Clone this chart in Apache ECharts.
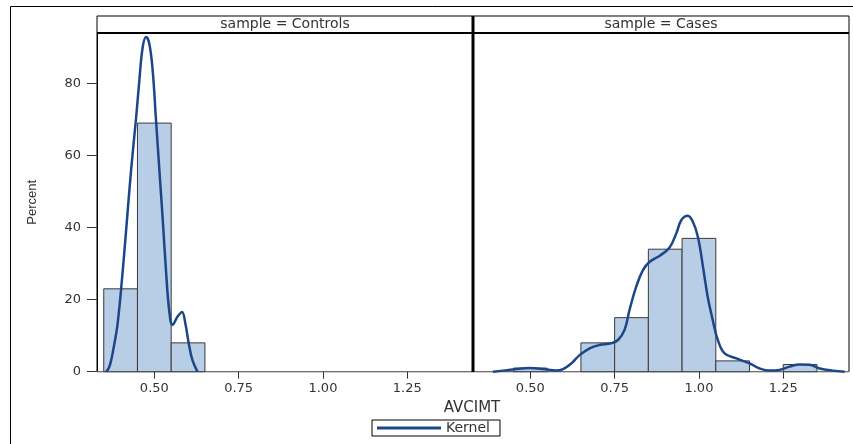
<!DOCTYPE html>
<html>
<head>
<meta charset="utf-8">
<script src="https://cdn.jsdelivr.net/npm/echarts@6/dist/echarts.min.js"></script>
<style>html,body{margin:0;padding:0;background:#fff}#chart{width:853px;height:444px}</style>
</head>
<body>
<div id="chart"></div>
<script>
// ---- data ----
const panelTitles = ['sample = Controls', 'sample = Cases'];
const xTicks = [0.50, 0.75, 1.00, 1.25];
const yTicks = [0, 20, 40, 60, 80];
const binWidth = 0.1;
const controlsBinMid = [0.40, 0.50, 0.60];
const controlsPct = [23, 69, 8];
const casesBinMid = [0.50, 0.70, 0.80, 0.90, 1.00, 1.10, 1.30];
const casesPct = [1, 8, 15, 34, 37, 3, 2];
const controlsKernelX = [0.357, 0.365, 0.372, 0.380, 0.390, 0.4016, 0.4164, 0.431, 0.446, 0.4557, 0.4657, 0.4755, 0.485, 0.495, 0.505, 0.515, 0.525, 0.5345, 0.544, 0.554, 0.569, 0.582, 0.592, 0.602, 0.613, 0.628];
const controlsKernelY = [0, 1.0, 3.2, 7.0, 12.5, 23.0, 39.3, 55.9, 70.5, 81.0, 90.2, 92.9, 91.1, 83.7, 69.8, 55.9, 42.1, 28.2, 17.1, 13.0, 15.3, 16.6, 13.4, 7.9, 3.2, 0];
const casesKernelX = [0.389, 0.419, 0.4585, 0.498, 0.537, 0.577, 0.597, 0.6215, 0.646, 0.676, 0.705, 0.740, 0.760, 0.7795, 0.794, 0.814, 0.834, 0.854, 0.884, 0.913, 0.933, 0.948, 0.967, 0.982, 0.997, 1.012, 1.026, 1.041, 1.056, 1.076, 1.111, 1.150, 1.180, 1.209, 1.239, 1.269, 1.298, 1.328, 1.358, 1.397, 1.432];
const casesKernelY = [0, 0.3, 0.75, 1.0, 0.75, 0.3, 0.7, 2.3, 4.6, 6.5, 7.4, 7.9, 8.8, 11.6, 17.1, 23.6, 28.2, 30.5, 32.2, 34.5, 38.4, 42.1, 43.3, 41.6, 37.4, 29.1, 20.8, 14.3, 8.8, 5.1, 3.7, 2.3, 0.9, 0.3, 0.5, 1.4, 2.0, 1.9, 0.9, 0.3, 0];

// ---- style ----
const FONT = 'DejaVu Sans';
const barFill = '#b8cde6';
const barStroke = '#3a3a3a';
const kernelColor = '#1d4689';

const chart = echarts.init(document.getElementById('chart'), null, {renderer: 'canvas'});

function zip(a, b) { return a.map((v, i) => [v, b[i]]); }

function renderBar(params, api) {
  const mid = api.value(0), h = api.value(1);
  const p0 = api.coord([mid - binWidth / 2, h]);
  const p1 = api.coord([mid + binWidth / 2, 0]);
  return {
    type: 'rect',
    shape: {x: p0[0], y: p0[1], width: p1[0] - p0[0], height: p1[1] - p0[1]},
    style: {fill: barFill, stroke: barStroke, lineWidth: 1}
  };
}

function xAxisDef(gi) {
  return {
    type: 'value', gridIndex: gi, min: 0.33, max: 1.445,
    axisLine: {show: true, onZero: false, lineStyle: {color: '#707070', width: 1}},
    axisTick: {show: true, length: 7, customValues: xTicks, lineStyle: {color: '#333'}},
    axisLabel: {customValues: xTicks, margin: 10, color: '#333', fontFamily: FONT, fontSize: 13,
      formatter: v => v.toFixed(2)},
    splitLine: {show: false}
  };
}

const option = {
  animation: false,
  backgroundColor: '#fff',
  grid: [
    {left: 97, top: 33, width: 376, height: 338.7, show: true, borderColor: '#000', borderWidth: 1},
    {left: 473, top: 33, width: 376, height: 338.7, show: true, borderColor: '#000', borderWidth: 1}
  ],
  xAxis: [xAxisDef(0), xAxisDef(1)],
  yAxis: [
    {
      type: 'value', gridIndex: 0, min: 0, max: 94,
      name: 'Percent', nameLocation: 'middle', nameRotate: 90, nameGap: 58,
      nameTextStyle: {fontFamily: 'Liberation Sans', fontSize: 13, color: '#333'},
      axisLine: {show: true, lineStyle: {color: '#000'}},
      axisTick: {show: true, length: 10, customValues: yTicks, lineStyle: {color: '#333'}},
      axisLabel: {customValues: yTicks, margin: 16, color: '#333', fontFamily: FONT, fontSize: 13},
      splitLine: {show: false}
    },
    {
      type: 'value', gridIndex: 1, min: 0, max: 94,
      axisLine: {show: false}, axisTick: {show: false}, axisLabel: {show: false}, splitLine: {show: false}
    }
  ],
  legend: {
    left: 372, top: 420,
    data: [{name: 'Kernel', icon: 'rect'}],
    itemWidth: 64, itemHeight: 3, itemGap: 0,
    borderColor: '#000', borderWidth: 1, borderRadius: 0,
    padding: [1, 10, 1, 5],
    textStyle: {fontFamily: FONT, fontSize: 14, color: '#333'}
  },
  graphic: [
    {type: 'rect', silent: true, z: -10, shape: {x: 10.5, y: 6.5, width: 900, height: 500},
      style: {fill: 'none', stroke: '#000', lineWidth: 1}},
    {type: 'rect', silent: true, shape: {x: 97, y: 16, width: 376, height: 17},
      style: {fill: '#fff', stroke: '#000', lineWidth: 1}},
    {type: 'rect', silent: true, shape: {x: 473, y: 16, width: 376, height: 17},
      style: {fill: '#fff', stroke: '#000', lineWidth: 1}},
    {type: 'line', silent: true, shape: {x1: 97, y1: 33, x2: 849, y2: 33},
      style: {stroke: '#000', lineWidth: 2}},
    {type: 'line', silent: true, z: 100, shape: {x1: 473, y1: 16, x2: 473, y2: 372},
      style: {stroke: '#000', lineWidth: 3}},
    {type: 'text', silent: true, style: {x: 285, y: 24.5, text: panelTitles[0], align: 'center', verticalAlign: 'middle',
      font: '14px "DejaVu Sans"', fill: '#333'}},
    {type: 'text', silent: true, style: {x: 661, y: 24.5, text: panelTitles[1], align: 'center', verticalAlign: 'middle',
      font: '14px "DejaVu Sans"', fill: '#333'}},
    {type: 'text', silent: true, style: {x: 472, y: 408, text: 'AVCIMT', align: 'center', verticalAlign: 'middle',
      font: '15px "DejaVu Sans"', fill: '#333'}}
  ],
  series: [
    {type: 'custom', name: 'Controls histogram', xAxisIndex: 0, yAxisIndex: 0,
      renderItem: renderBar, encode: {x: 0, y: 1}, data: zip(controlsBinMid, controlsPct), z: 2},
    {type: 'custom', name: 'Cases histogram', xAxisIndex: 1, yAxisIndex: 1,
      renderItem: renderBar, encode: {x: 0, y: 1}, data: zip(casesBinMid, casesPct), z: 2},
    {type: 'line', name: 'Kernel', xAxisIndex: 0, yAxisIndex: 0, data: zip(controlsKernelX, controlsKernelY),
      showSymbol: false, symbol: 'none', smooth: 0.4, color: kernelColor,
      lineStyle: {color: kernelColor, width: 2.5}, z: 5},
    {type: 'line', name: 'Kernel', xAxisIndex: 1, yAxisIndex: 1, data: zip(casesKernelX, casesKernelY),
      showSymbol: false, symbol: 'none', smooth: 0.4, color: kernelColor,
      lineStyle: {color: kernelColor, width: 2.5}, z: 5}
  ]
};
chart.setOption(option);
</script>
</body>
</html>
